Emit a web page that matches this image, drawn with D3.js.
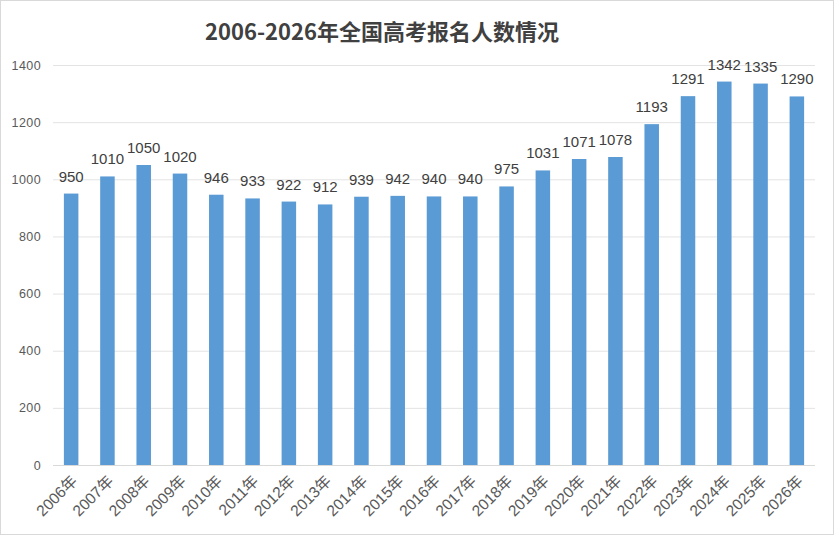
<!DOCTYPE html>
<html><head><meta charset="utf-8">
<script src="https://cdn.jsdelivr.net/npm/d3@7"></script>
<style>body{margin:0;background:#fff}svg{display:block}</style>
</head><body>
<script>
const years = ["2006年","2007年","2008年","2009年","2010年","2011年","2012年","2013年","2014年","2015年","2016年","2017年","2018年","2019年","2020年","2021年","2022年","2023年","2024年","2025年","2026年"];
const values = [950,1010,1050,1020,946,933,922,912,939,942,940,940,975,1031,1071,1078,1193,1291,1342,1335,1290];
const yTicks = [0,200,400,600,800,1000,1200,1400];
const title = "2006-2026年全国高考报名人数情况";

const W = 835, H = 536;
const svg = d3.select("body").append("svg").attr("width", W).attr("height", H);
svg.append("rect").attr("x",0.5).attr("y",0.5).attr("width",W-2).attr("height",H-2)
  .attr("fill","#fff").attr("stroke","#D9D9D9");

const m = {left:53, right:20, top:65, bottom:71};
const x = d3.scaleBand().domain(years).range([m.left, W-m.right]).paddingInner(0.6).paddingOuter(0.3);
const y = d3.scaleLinear().domain([0,1400]).range([H-m.bottom, m.top]);

// gridlines
svg.append("g").selectAll("line").data(yTicks).join("line")
  .attr("x1", m.left).attr("x2", W-m.right)
  .attr("y1", d=>y(d)+0.5).attr("y2", d=>y(d)+0.5)
  .attr("stroke", d=> d===0 ? "#D9D9D9" : "#E3E3E3").attr("stroke-width",1);

// y axis labels
const ya = svg.append("g").attr("transform",`translate(${m.left-12},0)`)
  .call(d3.axisLeft(y).tickValues(yTicks).tickFormat(d3.format("d")).tickSize(0).tickPadding(0));
ya.select(".domain").remove();
ya.selectAll("text").attr("font-family","Liberation Sans, Arial, sans-serif").attr("font-size",12.5)
  .attr("fill","#595959").attr("letter-spacing","0.4px");

// bars
svg.append("g").selectAll("rect").data(values).join("rect")
  .attr("x",(d,i)=>x(years[i])).attr("width",x.bandwidth())
  .attr("y",d=>y(d)).attr("height",d=>y(0)-y(d)).attr("fill","#5B9BD5");

// data labels
svg.append("g").selectAll("text").data(values).join("text")
  .attr("x",(d,i)=>x(years[i])+x.bandwidth()/2).attr("y",d=>y(d)-12)
  .attr("text-anchor","middle").attr("font-family","Liberation Sans, Arial, sans-serif")
  .attr("font-size",15).attr("fill","#404040").text(d=>d);

// x axis labels
const xa = svg.append("g").attr("transform",`translate(0,${y(0)})`)
  .call(d3.axisBottom(x).tickSize(0).tickPadding(0));
xa.select(".domain").remove();
xa.selectAll("text")
  .attr("font-family","Liberation Sans, Noto Sans CJK SC, sans-serif").attr("font-size",15.5).attr("fill","#595959")
  .attr("text-anchor","end").attr("dy",null).attr("y",0).attr("x",0)
  .attr("transform","translate(7,17) rotate(-45)");

// title
svg.append("text").attr("x",382).attr("y",40).attr("text-anchor","middle")
  .attr("font-family","Noto Sans CJK SC, sans-serif").attr("font-weight","bold").attr("font-size",22)
  .attr("fill","#404040").text(title);
</script>
</body></html>
